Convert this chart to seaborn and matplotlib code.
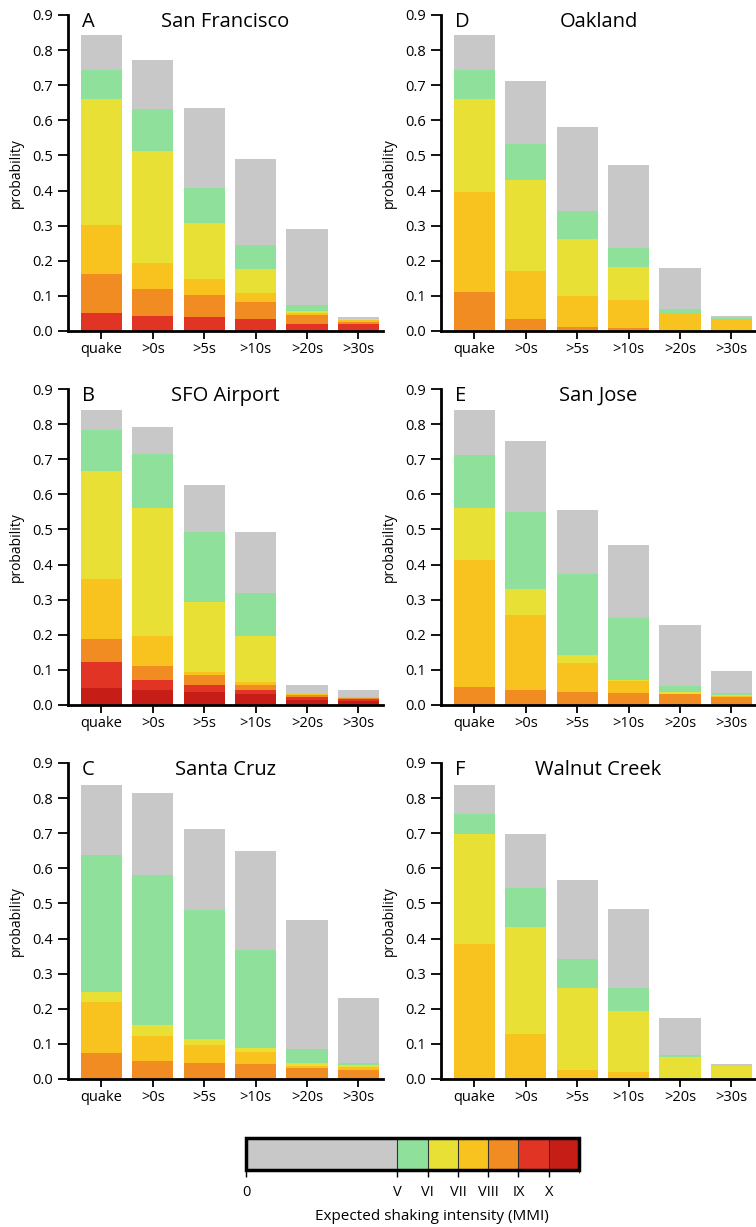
import matplotlib
matplotlib.use("Agg")
import matplotlib.pyplot as plt
from matplotlib.colors import ListedColormap, BoundaryNorm
from matplotlib.cm import ScalarMappable
import pandas as pd
import seaborn as sns

# Warning-time categories on the x axis
CATEGORIES = ["quake", ">0s", ">5s", ">10s", ">20s", ">30s"]

# Shaking levels, from "any shaking" up to MMI X, and their colours
LEVEL_NAMES = ["any", "V", "VI", "VII", "VIII", "IX", "X"]
LEVEL_COLORS = ["#c8c8c8", "#8fe09b", "#e8e035", "#f8c31f",
                "#f08c22", "#e23425", "#c61e16"]

# Probability of shaking at or above each level (rows follow LEVEL_NAMES)
SAN_FRANCISCO = [
    [0.843, 0.773, 0.634, 0.490, 0.290, 0.040],
    [0.743, 0.633, 0.406, 0.245, 0.075, 0.034],
    [0.661, 0.513, 0.307, 0.176, 0.058, 0.033],
    [0.302, 0.195, 0.149, 0.107, 0.052, 0.032],
    [0.161, 0.121, 0.103, 0.082, 0.046, 0.027],
    [0.050, 0.043, 0.039, 0.034, 0.021, 0.019],
    [0.000, 0.000, 0.000, 0.000, 0.000, 0.000],
]
SFO_AIRPORT = [
    [0.840, 0.791, 0.627, 0.494, 0.057, 0.043],
    [0.784, 0.716, 0.494, 0.319, 0.030, 0.022],
    [0.667, 0.562, 0.293, 0.197, 0.030, 0.022],
    [0.360, 0.197, 0.095, 0.066, 0.030, 0.022],
    [0.188, 0.111, 0.085, 0.057, 0.028, 0.020],
    [0.122, 0.071, 0.057, 0.043, 0.024, 0.018],
    [0.047, 0.043, 0.038, 0.030, 0.015, 0.012],
]
SANTA_CRUZ = [
    [0.838, 0.815, 0.713, 0.649, 0.453, 0.232],
    [0.638, 0.581, 0.482, 0.368, 0.086, 0.045],
    [0.247, 0.153, 0.114, 0.087, 0.045, 0.040],
    [0.220, 0.123, 0.097, 0.076, 0.038, 0.035],
    [0.074, 0.050, 0.045, 0.042, 0.032, 0.027],
    [0.000, 0.000, 0.000, 0.000, 0.000, 0.000],
    [0.000, 0.000, 0.000, 0.000, 0.000, 0.000],
]
OAKLAND = [
    [0.843, 0.713, 0.581, 0.473, 0.180, 0.044],
    [0.743, 0.533, 0.343, 0.235, 0.063, 0.036],
    [0.661, 0.429, 0.261, 0.183, 0.052, 0.035],
    [0.395, 0.171, 0.101, 0.088, 0.050, 0.034],
    [0.111, 0.035, 0.012, 0.008, 0.000, 0.000],
    [0.000, 0.000, 0.000, 0.000, 0.000, 0.000],
    [0.000, 0.000, 0.000, 0.000, 0.000, 0.000],
]
SAN_JOSE = [
    [0.840, 0.751, 0.554, 0.456, 0.228, 0.096],
    [0.713, 0.550, 0.373, 0.247, 0.055, 0.035],
    [0.560, 0.331, 0.142, 0.072, 0.036, 0.028],
    [0.414, 0.257, 0.121, 0.068, 0.031, 0.026],
    [0.050, 0.043, 0.038, 0.033, 0.030, 0.024],
    [0.000, 0.000, 0.000, 0.000, 0.000, 0.000],
    [0.000, 0.000, 0.000, 0.000, 0.000, 0.000],
]
WALNUT_CREEK = [
    [0.838, 0.699, 0.566, 0.485, 0.173, 0.042],
    [0.755, 0.543, 0.343, 0.258, 0.069, 0.038],
    [0.699, 0.433, 0.258, 0.193, 0.062, 0.038],
    [0.384, 0.128, 0.025, 0.020, 0.000, 0.000],
    [0.000, 0.000, 0.000, 0.000, 0.000, 0.000],
    [0.000, 0.000, 0.000, 0.000, 0.000, 0.000],
    [0.000, 0.000, 0.000, 0.000, 0.000, 0.000],
]

PANELS = [
    ("A", "San Francisco", SAN_FRANCISCO),
    ("B", "SFO Airport", SFO_AIRPORT),
    ("C", "Santa Cruz", SANTA_CRUZ),
    ("D", "Oakland", OAKLAND),
    ("E", "San Jose", SAN_JOSE),
    ("F", "Walnut Creek", WALNUT_CREEK),
]

# Colour-bar scale: grey band up to MMI V, then one unit per MMI level
MMI_BOUNDS = [0, 5, 6, 7, 8, 9, 10, 11]
MMI_TICKS = [0, 5, 6, 7, 8, 9, 10]
MMI_LABELS = ["0", "V", "VI", "VII", "VIII", "IX", "X"]

sns.set_style("ticks")
plt.rcParams["font.family"] = ["Open Sans", "DejaVu Sans"]
plt.rcParams["text.color"] = "black"
plt.rcParams["axes.labelcolor"] = "black"

W, H = 756, 1227
fig = plt.figure(figsize=(W / 100, H / 100), dpi=100)

col_x = [68, 441]
ax_w = 315
row_top = [15, 389, 763]
ax_h = 316

for i, (letter, title, levels) in enumerate(PANELS):
    col, row = divmod(i, 3)
    left = col_x[col] / W
    bottom = 1 - (row_top[row] + ax_h) / H
    ax = fig.add_axes([left, bottom, ax_w / W, ax_h / H])

    # Stacked bars: tallest cumulative level first, higher intensities on top
    for name, color, vals in zip(LEVEL_NAMES, LEVEL_COLORS, levels):
        df = pd.DataFrame({"time": CATEGORIES, "prob": vals})
        sns.barplot(data=df, x="time", y="prob", order=CATEGORIES,
                    color=color, saturation=1, width=0.8, linewidth=0,
                    errorbar=None, ax=ax)

    ax.set_xlim(-0.65, 5.48)
    ax.set_ylim(0, 0.9)
    ax.set_yticks([k / 10 for k in range(10)])
    ax.set_yticklabels([f"{k / 10:.1f}" for k in range(10)])
    ax.set_xlabel("")
    ax.set_ylabel("probability", fontsize=10, color="black")
    ax.yaxis.set_label_coords(-0.14, 0.5)
    for side in ("top", "right"):
        ax.spines[side].set_visible(False)
    for side in ("left", "bottom"):
        ax.spines[side].set_linewidth(2.0)
        ax.spines[side].set_color("black")
    ax.tick_params(axis="y", length=7, width=1.3, pad=4, labelsize=10.5,
                   colors="black")
    ax.tick_params(axis="x", length=6, width=1.3, pad=2, labelsize=10.5,
                   colors="black")
    ax.patch.set_alpha(0)

    ax.text(-0.38, 0.866, letter, fontsize=14.5, ha="left", va="baseline",
            color="black")
    ax.text(0.5, 0.866, title, fontsize=14.5, ha="center", va="baseline",
            color="black", transform=ax.get_yaxis_transform())

# Intensity colour bar
cax = fig.add_axes([246 / W, 1 - 1170 / H, 333 / W, 32 / H])
cmap = ListedColormap(LEVEL_COLORS)
norm = BoundaryNorm(MMI_BOUNDS, cmap.N)
sm = ScalarMappable(norm=norm, cmap=cmap)
cb = fig.colorbar(sm, cax=cax, orientation="horizontal", ticks=MMI_TICKS,
                  spacing="proportional", drawedges=True)
cb.outline.set_linewidth(2.5)
cb.outline.set_edgecolor("black")
cb.dividers.set_color("#333333")
cb.dividers.set_linewidth(0.8)
cb.ax.set_xticklabels(MMI_LABELS)
cb.ax.tick_params(length=5, width=1, pad=6, labelsize=10.5, colors="black")
fig.text(432 / W, 1 - 1217 / H, "Expected shaking intensity (MMI)",
         ha="center", va="center", fontsize=11, color="black")

fig.savefig("out.png", dpi=100)
